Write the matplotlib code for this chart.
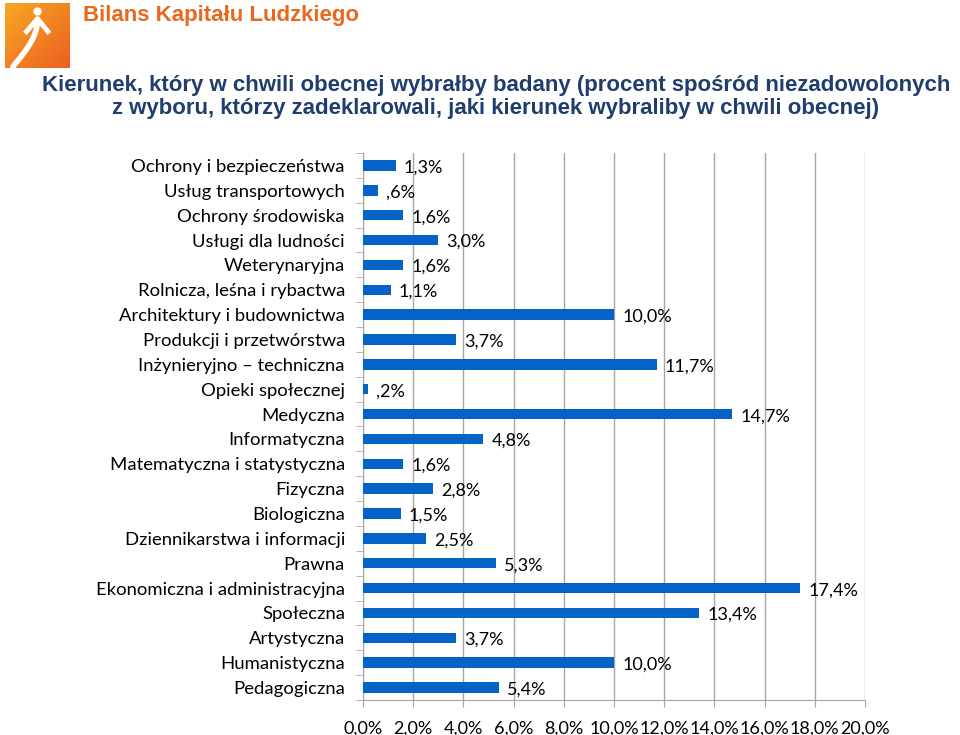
import numpy as np
import matplotlib
matplotlib.use('Agg')
import matplotlib.pyplot as plt
from matplotlib.ticker import FixedLocator

plt.rcParams['font.family'] = ['Lato', 'DejaVu Sans']

kategorie = ['Ochrony i bezpieczeństwa', 'Usług transportowych', 'Ochrony środowiska',
             'Usługi dla ludności', 'Weterynaryjna', 'Rolnicza, leśna i rybactwa',
             'Architektury i budownictwa', 'Produkcji i przetwórstwa',
             'Inżynieryjno – techniczna', 'Opieki społecznej', 'Medyczna',
             'Informatyczna', 'Matematyczna i statystyczna', 'Fizyczna', 'Biologiczna',
             'Dziennikarstwa i informacji', 'Prawna', 'Ekonomiczna i administracyjna',
             'Społeczna', 'Artystyczna', 'Humanistyczna', 'Pedagogiczna']
wartosci = [1.3, 0.6, 1.6, 3.0, 1.6, 1.1, 10.0, 3.7, 11.7, 0.2, 14.7, 4.8,
            1.6, 2.8, 1.5, 2.5, 5.3, 17.4, 13.4, 3.7, 10.0, 5.4]
os_x = [0, 2, 4, 6, 8, 10, 12, 14, 16, 18, 20]

kolor_slupka = '#0563C8'
kolor_siatki = '#A6A6A6'


def etykieta(v):
    s = ('%.1f' % v).replace('.', ',')
    if s.startswith('0'):
        s = s[1:]
    return s + '%'


fig = plt.figure(figsize=(9.6, 7.35), dpi=100)

# logo
ax_logo = fig.add_axes([5 / 960, 1 - 68 / 735, 65 / 960, 65 / 735])
gx, gy = np.meshgrid(np.linspace(0, 1, 50), np.linspace(0, 1, 50))
ax_logo.imshow(gx * 0.5 + gy * 0.5, cmap=matplotlib.colors.LinearSegmentedColormap.from_list(
    'or', ['#F7A823', '#EC5F22']), extent=[0, 1, 0, 1], origin='upper')
t = np.linspace(0, 1, 30)
ax_logo.plot(0.12 + 0.38 * np.sin(t * np.pi / 2), 0.02 + 0.72 * t, color='white', lw=4,
             solid_capstyle='round')
ax_logo.plot([0.33, 0.50, 0.66], [0.56, 0.76, 0.56], color='white', lw=3.5)
ax_logo.plot([0.5], [0.88], 'o', color='white', ms=5)
ax_logo.set_xlim(0, 1)
ax_logo.set_ylim(0, 1)
ax_logo.axis('off')

fig.text(83 / 960, 1 - 16 / 735, 'Bilans Kapitału Ludzkiego', color='#E8691E',
         fontsize=16, fontweight='bold', family='Liberation Sans', va='center')
fig.text(496 / 960, 1 - 97 / 735,
         'Kierunek, który w chwili obecnej wybrałby badany (procent spośród niezadowolonych\n'
         'z wyboru, którzy zadeklarowali, jaki kierunek wybraliby w chwili obecnej)',
         color='#1F3E6E', fontsize=16, fontweight='bold', family='Liberation Sans',
         ha='center', va='center', linespacing=1.15)

ax = fig.add_axes([363 / 960, 1 - 700 / 735, (865 - 363) / 960, (700 - 153) / 735])
y = np.arange(len(kategorie))
ax.barh(y, wartosci, height=0.42, color=kolor_slupka, zorder=3)
for yi, v in zip(y, wartosci):
    ax.annotate(etykieta(v), (v, yi), xytext=(6, -1.5), textcoords='offset points',
                va='center', ha='left', fontsize=13, color='black', zorder=4)

ax.set_xlim(0, 20)
ax.set_ylim(len(kategorie) - 0.5, -0.5)
ax.set_yticks(y)
ax.set_yticklabels(kategorie, fontsize=13.3)
ax.yaxis.set_minor_locator(FixedLocator(np.arange(-0.5, len(kategorie), 1)))
ax.tick_params(axis='y', which='major', length=0, pad=13)
ax.tick_params(axis='y', which='minor', length=5, color=kolor_siatki)
ax.set_xticks(os_x)
ax.set_xticklabels([('%.1f' % v).replace('.', ',') + '%' for v in os_x], fontsize=13)
ax.tick_params(axis='x', length=5, color=kolor_siatki, pad=10)
ax.grid(axis='x', color=kolor_siatki, lw=1, zorder=0)
for s in ['top', 'right']:
    ax.spines[s].set_visible(False)
for s in ['left', 'bottom']:
    ax.spines[s].set_color(kolor_siatki)

fig.savefig('out.png', dpi=100)
